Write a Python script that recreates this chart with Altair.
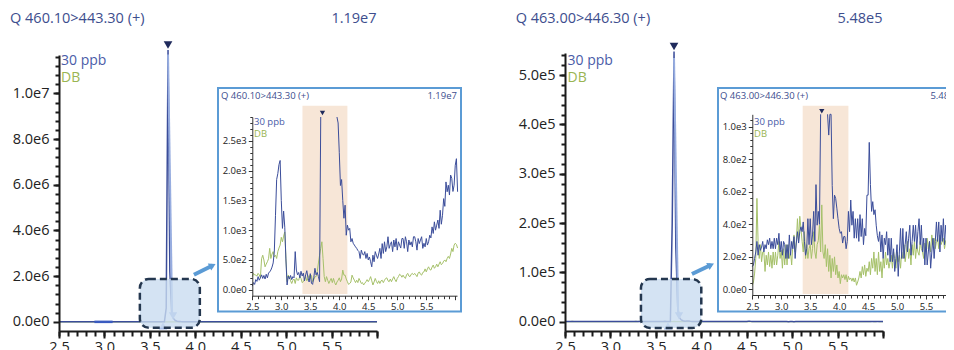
import altair as alt
import pandas as pd

FONT = "Open Sans"
NAVY = "#3b4d9a"
GREEN = "#a6c16a"
TITLE_C = "#3d4e8e"
LEG_NAVY = "#4a5ca8"
LEG_GREEN = "#9ab552"
FRAME = "#5b9bd5"
MARK_DARK = "#1f2a5c"
MARK_LIGHT = "#97ade0"
MARK_LIGHTER = "#a9bfe9"
BAND = "#f7e6d7"
AX = "#1a1a1a"

# ---------------- data ----------------
N = 178
t_grid = [round(2.5 + 0.02 * i, 2) for i in range(N)]

titles = ["Q 460.10>443.30 (+)", "Q 463.00>446.30 (+)"]
maxima = ["1.19e7", "5.48e5"]
series_names = ["30 ppb", "DB"]

# left panel, 30 ppb (2.50 .. 6.04 step 0.02)
L_30 = [60, 120, 90, 170, 140, 220, 160, 200, 250, 190,
        240, 180, 260, 200, 280, 300, 330, 380, 450, 650,
        1250, 1850, 1950, 2100, 2170, 1500, 1030, 1320, 1050, 500,
        80, 230, 180, 240, 170, 220, 200, 640, 330, 250,
        290, 200, 310, 230, 280, 150, 250, 320, 200, 130,
        270, 110, 90, 200, 360, 250, 290, 220, 135, 6.0e5,
        1.19e7, 2.2e6, 4.0e5, 1.5e5, 6.0e4, 3.0e4, 1.8e4, 1.2e4, 8.0e3, 5.5e3,
        4.5e3, 3.8e3, 3.3e3, 2950, 2800, 2300, 1750, 1850, 1500, 1200,
        1420, 915, 1085, 1000, 1030, 805, 860, 780, 750, 720,
        695, 660, 640, 525, 665, 600, 580, 640, 525, 610,
        500, 550, 470, 385, 580, 470, 640, 580, 525, 600,
        695, 525, 775, 610, 805, 640, 720, 890, 695, 760,
        805, 640, 835, 720, 860, 665, 805, 750, 700, 860,
        860, 695, 890, 805, 640, 835, 750, 805, 720, 890,
        890, 805, 665, 860, 775, 835, 890, 695, 780, 720,
        860, 750, 805, 915, 870, 1055, 945, 1140, 1000, 1085,
        1170, 1030, 1335, 1100, 1250, 1530, 1400, 1810, 1645, 1755,
        1590, 1925, 1870, 1650, 1755, 2090, 2200, 1645]

L_DB = [220, 275, 250, 245, 230, 275, 250, 200, 520, 580,
        500, 385, 430, 470, 520, 695, 525, 600, 640, 550,
        580, 525, 640, 700, 750, 880, 805, 900, 970, 525,
        135, 245, 220, 150, 105, 160, 180, 105, 200, 160,
        160, 230, 190, 120, 135, 180, 220, 150, 190, 240,
        190, 240, 135, 170, 220, 220, 300, 450, 580, 695,
        805, 525, 220, 135, 220, 160, 105, 150, 190, 120,
        190, 120, 80, 130, 160, 200, 135, 180, 330, 245,
        245, 180, 135, 90, 105, 130, 245, 200, 160, 120,
        160, 120, 190, 150, 105, 120, 80, 110, 135, 170,
        135, 170, 220, 150, 80, 130, 190, 140, 105, 150,
        105, 150, 160, 120, 160, 190, 200, 150, 135, 180,
        135, 180, 220, 170, 135, 190, 220, 260, 245, 210,
        245, 210, 190, 250, 275, 230, 220, 260, 275, 250,
        275, 250, 220, 280, 300, 260, 245, 290, 300, 350,
        300, 350, 385, 340, 330, 380, 415, 360, 385, 430,
        385, 430, 470, 420, 440, 480, 500, 470, 525, 560,
        525, 600, 695, 640, 750, 780, 760, 700]

# right panel, 30 ppb
R_30 = [140, 150, 190, 230, 295, 210, 275, 240, 260, 295,
        230, 275, 250, 305, 275, 315, 250, 295, 250, 315,
        250, 315, 275, 345, 230, 295, 210, 295, 275, 190,
        275, 190, 335, 210, 295, 250, 325, 190, 285, 355,
        285, 355, 385, 355, 415, 295, 210, 250, 435, 275,
        435, 275, 335, 480, 295, 645, 395, 480, 400, 2.0e5,
        5.48e5, 1.5e5, 3.0e4, 8.0e3, 3.5e3, 1.8e3, 950, 1200, 1150, 640,
        435, 580, 560, 500, 435, 375, 345, 355, 285, 325,
        325, 250, 295, 480, 355, 550, 395, 480, 315, 435,
        315, 435, 295, 460, 325, 435, 275, 375, 330, 580,
        580, 905, 645, 480, 540, 460, 490, 395, 330, 295,
        355, 230, 335, 190, 315, 275, 355, 210, 315, 170,
        315, 170, 250, 110, 190, 275, 80, 230, 375, 190,
        375, 190, 275, 355, 230, 315, 395, 210, 295, 395,
        295, 395, 250, 355, 435, 275, 395, 230, 315, 150,
        315, 150, 230, 295, 130, 230, 315, 190, 295, 415,
        295, 415, 230, 395, 295, 435, 275, 395, 315, 480,
        315, 480, 295, 550, 420, 500, 450, 400]

R_DB = [25, 45, 100, 190, 560, 295, 190, 275, 170, 230,
        230, 110, 210, 150, 230, 140, 210, 130, 230, 150,
        230, 150, 210, 295, 190, 240, 130, 250, 150, 275,
        150, 275, 190, 230, 150, 275, 335, 230, 295, 435,
        295, 450, 375, 295, 230, 355, 190, 275, 190, 250,
        275, 190, 250, 355, 230, 190, 275, 300, 395, 230,
        520, 230, 190, 275, 140, 250, 110, 210, 70, 190,
        110, 200, 90, 150, 70, 110, 35, 90, 70, 90,
        60, 90, 45, 80, 60, 70, 50, 70, 45, 70,
        25, 45, 70, 110, 70, 140, 90, 150, 80, 130,
        110, 170, 90, 190, 130, 230, 110, 190, 90, 230,
        110, 170, 70, 190, 130, 230, 150, 190, 130, 170,
        210, 130, 230, 190, 130, 230, 170, 210, 130, 230,
        190, 275, 170, 230, 295, 190, 250, 150, 275, 210,
        295, 190, 275, 230, 210, 295, 250, 230, 190, 285,
        230, 315, 250, 295, 230, 335, 275, 315, 250, 295,
        315, 250, 335, 275, 295, 315, 250, 300, 280, 320,
        300, 280, 320, 290, 300, 310, 300, 300]

assert all(len(a) == N for a in (L_30, L_DB, R_30, R_DB))

# peak apex, integration markers, zoom box, arrow and highlighted window (data units)
L_peak = {"t": [3.70], "v": [1.19e7]}
R_peak = {"t": [3.70], "v": [5.48e5]}
L_light = {"t": [3.70, 3.745], "v": [1.17e7, 3.5e5]}
R_light = {"t": [3.70, 3.745], "v": [5.35e5, 1.6e4]}
L_end = {"t": [3.755], "v": [2.6e5]}
R_end = {"t": [3.755], "v": [1.16e4]}
L_start = {"t": [3.645], "v": [-1.8e5]}
R_start = {"t": [3.633], "v": [-8.7e3]}
L_seg = {"t": [2.89, 3.09], "v": [0, 0]}
L_zoom = {"x1": [3.39], "x2": [4.05], "y1": [-2.6e5], "y2": [1.88e6]}
R_zoom = {"x1": [3.336], "x2": [4.0], "y1": [-1.28e4], "y2": [8.66e4]}
L_arrow = {"x1": [3.985], "x2": [4.19], "y1": [2.06e6], "y2": [2.47e6]}
R_arrow = {"x1": [3.897], "x2": [4.106], "y1": [9.67e4], "y2": [1.15e5]}
L_band = {"a": [3.365], "b": [4.14]}
R_band = {"a": [3.37], "b": [4.16]}
L_imark = {"t": [3.71], "v": [2900]}
R_imark = {"t": [3.70], "v": [1078]}

x_major = [2.5, 3.0, 3.5, 4.0, 4.5, 5.0, 5.5, 6.0]
x_minor = [round(2.5 + 0.1 * i, 1) for i in range(36)]
L_ymajor = [0, 2e6, 4e6, 6e6, 8e6, 1e7]
L_yminor = [4e5 * i for i in range(1, 30)]
R_ymajor = [0, 1e5, 2e5, 3e5, 4e5, 5e5]
R_yminor = [2e4 * i for i in range(1, 28)]
Li_ymajor = [0, 500, 1000, 1500, 2000, 2500]
Li_yminor = [100 * i for i in range(1, 30)]
Ri_ymajor = [0, 200, 400, 600, 800, 1000]
Ri_yminor = [40 * i for i in range(1, 27)]

EXP = "replace(format(datum.value, '.1e'), '+', '')"
XLAB = "datum.value > 5.9 ? '' : format(datum.value, '.1f')"


def sc(domain, rng):
    return alt.Scale(domain=domain, range=rng, nice=False, zero=False)


def ax(orient, offset, values, size, labels, expr=None, width=2.0, fs=14.5,
       pad=3, color=AX, domain=True):
    kw = dict(orient=orient, offset=offset, values=values, grid=False, title=None,
              zindex=1, tickSize=size, tickWidth=width, tickColor=color,
              domain=domain, domainColor=color, domainWidth=width,
              labels=labels, labelFlush=False, labelOverlap=False)
    if labels:
        kw.update(labelExpr=expr, labelFont=FONT, labelFontSize=fs,
                  labelColor="#222", labelPadding=pad)
    return alt.Axis(**kw)


def df(d):
    return pd.DataFrame(d)


def line(data, xs, ys, color, w, xaxis=None, yaxis=None, detail=False):
    enc = dict(x=alt.X("t:Q", scale=xs, axis=xaxis),
               y=alt.Y("v:Q", scale=ys, axis=yaxis))
    if detail:
        enc["detail"] = alt.Detail("seg:N")
    return alt.Chart(data).mark_line(color=color, strokeWidth=w).encode(**enc)


def pts(d, xs, ys, shape, size, color, yoff=0, angle=0):
    return alt.Chart(df(d)).mark_point(shape=shape, size=size, filled=True, color=color,
                                       opacity=1, yOffset=yoff, angle=angle).encode(
        x=alt.X("t:Q", scale=xs, axis=None), y=alt.Y("v:Q", scale=ys, axis=None))


def tick_layer_x(values, xs, a):
    return alt.Chart(df({"t": values})).mark_point(opacity=0).encode(
        x=alt.X("t:Q", scale=xs, axis=a))


def tick_layer_y(values, ys, a):
    return alt.Chart(df({"v": values})).mark_point(opacity=0).encode(
        y=alt.Y("v:Q", scale=ys, axis=a))


def text(label, x, y, size, color, align="left"):
    return alt.Chart(df({"label": [label]})).mark_text(
        align=align, baseline="middle", font=FONT, fontSize=size, color=color).encode(
        x=alt.value(x), y=alt.value(y), text="label:N")


def inset_rows(vals, vmax):
    rows, seg, gap = [], 0, False
    n = len(vals)
    for i, v in enumerate(vals):
        over = v > vmax
        near = (i > 0 and vals[i - 1] <= vmax) or (i < n - 1 and vals[i + 1] <= vmax)
        if over and not near:
            if not gap:
                seg += 1
                gap = True
            continue
        gap = False
        rows.append({"t": t_grid[i], "v": min(v, vmax), "seg": seg})
    return pd.DataFrame(rows)


def panel(v30, vdb, k, mx, my, x_off, y_off, ymaj, ymin, peak, light, end, start,
          zoom, arrow, ix, iy, ix_off, iy_off, iymaj, iymin, band, imark, imark_off,
          frame, titlepos, inset_title_pos, seg=None):
    L = []
    main30 = df({"t": t_grid, "v": v30})
    maindb = df({"t": t_grid, "v": vdb})
    main30 = main30[main30.t <= 6.0]
    maindb = maindb[maindb.t <= 6.0]
    # main chromatogram
    L.append(line(maindb, mx, my, GREEN, 1.2))
    L.append(line(main30, mx, my, NAVY, 1.5,
                  xaxis=ax("bottom", x_off, x_major, 7, True, XLAB, pad=2),
                  yaxis=ax("left", y_off, ymaj, 6, True, EXP, pad=4)))
    L.append(tick_layer_x(x_minor, mx, ax("bottom", x_off, x_minor, 5, False, domain=False)))
    L.append(tick_layer_y(ymin, my, ax("left", y_off, ymin, 4, False, domain=False)))
    if seg is not None:
        L.append(alt.Chart(df(seg)).mark_line(color="#3a5bc0", strokeWidth=2.5).encode(
            x=alt.X("t:Q", scale=mx, axis=None), y=alt.Y("v:Q", scale=my, axis=None)))
    L.append(alt.Chart(df(light)).mark_line(color=MARK_LIGHT, strokeWidth=2).encode(
        x=alt.X("t:Q", scale=mx, axis=None), y=alt.Y("v:Q", scale=my, axis=None)))
    L.append(pts(end, mx, my, "triangle-down", 70, MARK_LIGHT))
    L.append(pts(start, mx, my, "triangle-up", 70, MARK_LIGHTER))
    L.append(pts(peak, mx, my, "triangle-down", 75, MARK_DARK, yoff=-5))
    # zoom box + arrow
    L.append(alt.Chart(df(zoom)).mark_rect(
        cornerRadius=9, fill="#c9dcf0", fillOpacity=0.8, stroke="#24374f",
        strokeWidth=2.5, strokeDash=[7, 4]).encode(
        x=alt.X("x1:Q", scale=mx, axis=None), x2="x2:Q",
        y=alt.Y("y1:Q", scale=my, axis=None), y2="y2:Q"))
    L.append(alt.Chart(df(arrow)).mark_rule(color=FRAME, strokeWidth=4).encode(
        x=alt.X("x1:Q", scale=mx, axis=None), x2="x2:Q",
        y=alt.Y("y1:Q", scale=my, axis=None), y2="y2:Q"))
    L.append(alt.Chart(df(arrow)).mark_point(
        shape="triangle-right", size=60, filled=True, color=FRAME, opacity=1,
        angle=334).encode(x=alt.X("x2:Q", scale=mx, axis=None),
                          y=alt.Y("y2:Q", scale=my, axis=None)))
    # inset
    fx0, fx1, fy0, fy1 = frame
    L.append(alt.Chart(df({"k": [0]})).mark_rect(
        fill="white", stroke=FRAME, strokeWidth=2).encode(
        x=alt.value(fx0), x2=alt.value(fx1), y=alt.value(fy0), y2=alt.value(fy1)))
    L.append(alt.Chart(df(band)).mark_rect(fill=BAND).encode(
        x=alt.X("a:Q", scale=ix, axis=None), x2="b:Q",
        y=alt.value(97.7), y2=alt.value(286)))
    vmax = iy.domain[1]
    L.append(line(inset_rows(vdb, vmax), ix, iy, GREEN, 1.0, detail=True))
    L.append(line(inset_rows(v30, vmax), ix, iy, NAVY, 1.0, detail=True,
                  xaxis=ax("bottom", ix_off, x_major, 4, True, XLAB, width=1, fs=9.5,
                           pad=2, color="#333"),
                  yaxis=ax("left", iy_off, iymaj, 4, True, EXP, width=1, fs=9.5,
                           pad=2, color="#333")))
    L.append(tick_layer_x(x_minor, ix, ax("bottom", ix_off, x_minor, 3, False,
                                          width=1, color="#333", domain=False)))
    L.append(tick_layer_y(iymin, iy, ax("left", iy_off, iymin, 2.5, False,
                                        width=1, color="#333", domain=False)))
    L.append(pts(imark, ix, iy, "triangle-down", 28, MARK_DARK, yoff=imark_off))
    # texts
    tx, mxpos, lx = titlepos
    L.append(text(titles[k], tx, 11, 14.5, TITLE_C))
    L.append(text(maxima[k], mxpos, 11, 14.5, TITLE_C, align="center"))
    L.append(text(series_names[0], lx, 52.5, 14, LEG_NAVY))
    L.append(text(series_names[1], lx, 70, 14, LEG_GREEN))
    itx, irx, ilx = inset_title_pos
    L.append(text(titles[k], itx, 88, 9.5, TITLE_C))
    L.append(text(maxima[k], irx, 88, 9.5, TITLE_C, align="right"))
    L.append(text(series_names[0], ilx, 113.5, 9.5, LEG_NAVY))
    L.append(text(series_names[1], ilx, 125.5, 9.5, LEG_GREEN))
    return L


left = panel(L_30, L_DB, 0,
             sc([2.5, 6.0], [51, 369]), sc([-4.0e5, 1.168e7], [323, 47]), -19, -51,
             L_ymajor, L_yminor, L_peak, L_light, L_end, L_start, L_zoom, L_arrow,
             sc([2.5, 6.03], [244.3, 449]), sc([-100, 2900], [287.7, 109]), -54.3, -244.3,
             Li_ymajor, Li_yminor, L_band, L_imark, -4,
             (210, 453, 80, 303.5), (2, 346, 53), (213, 449, 246), seg=L_seg)

right = panel(R_30, R_DB, 1,
              sc([2.5, 6.0], [557, 875]), sc([-18900, 545000], [323, 45]), -19, -557,
              R_ymajor, R_yminor, R_peak, R_light, R_end, R_start, R_zoom, R_arrow,
              sc([2.5, 6.03], [744.3, 948.7]), sc([-35, 1078], [287, 106.3]), -55, -744.3,
              Ri_ymajor, Ri_yminor, R_band, R_imark, -3,
              (710, 990, 80, 303.5), (507.7, 852, 559.5), (712, 952, 746))

chart = alt.layer(*left, *right).resolve_scale(x="independent", y="independent").properties(
    width=938, height=342, padding=0,
    autosize=alt.AutoSizeParams(type="none"),
).configure_view(stroke=None)

chart.save("out.html", embed_options={"renderer": "svg", "actions": False})
